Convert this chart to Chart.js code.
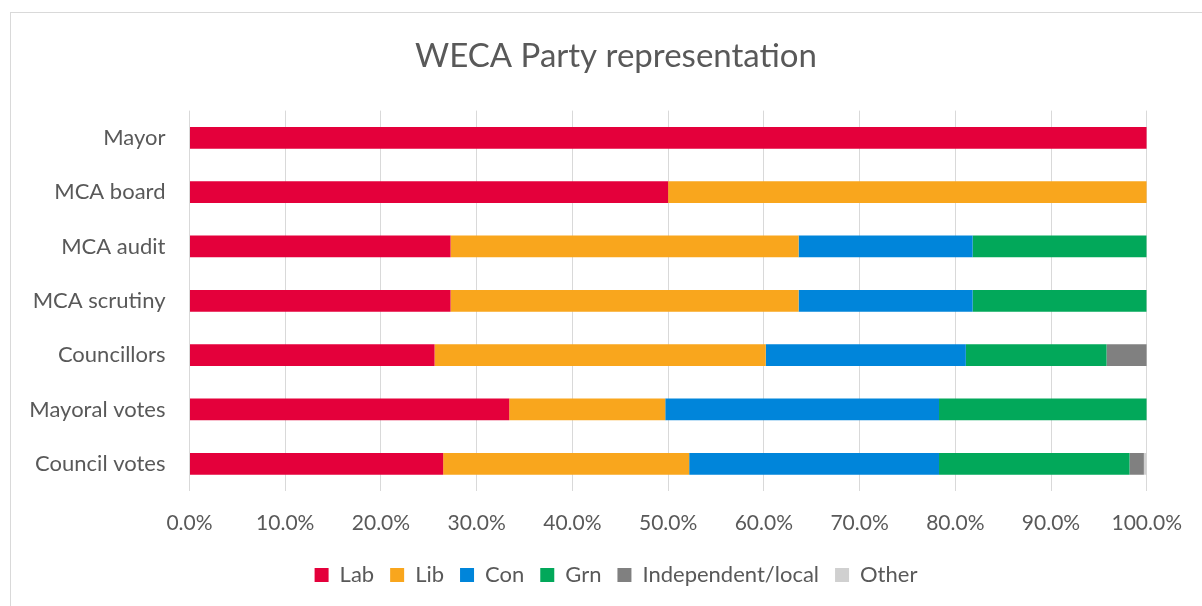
<!DOCTYPE html>
<html>
<head>
<meta charset="utf-8">
<script src="https://cdn.jsdelivr.net/npm/chart.js@4/dist/chart.umd.min.js"></script>
<style>
html,body{margin:0;padding:0;background:#fff;}
#wrap{position:absolute;left:0;top:0;width:1202px;height:606px;}
</style>
</head>
<body>
<div id="wrap"><canvas id="c" width="1202" height="606"></canvas></div>
<script>
const categories = ['Mayor','MCA board','MCA audit','MCA scrutiny','Councillors','Mayoral votes','Council votes'];
const seriesNames = ['Lab','Lib','Con','Grn','Independent/local','Other'];
const lab   = [100, 50, 27.27, 27.27, 25.6, 33.4, 26.5];
const lib   = [0,   50, 36.36, 36.36, 34.6, 16.3, 25.7];
const con   = [0,    0, 18.18, 18.18, 20.9, 28.6, 26.1];
const grn   = [0,    0, 18.18, 18.18, 14.7, 21.7, 19.9];
const ind   = [0,    0, 0,     0,     4.2,  0,    1.5];
const other = [0,    0, 0,     0,     0,    0,    0.3];
const colors = ['#E4003B','#F9A61D','#0085DA','#02A85A','#808080','#D0D0D0'];
const xTickStep = 10;

const FONT = 'Lato, "Noto Sans", sans-serif';
const TXT = '#595959';

const frame = {
  id:'frame',
  beforeDraw(chart){
    const ctx = chart.ctx;
    ctx.save();
    ctx.fillStyle = '#fff';
    ctx.fillRect(0,0,chart.width,chart.height);
    ctx.strokeStyle = '#D9D9D9';
    ctx.lineWidth = 1;
    ctx.strokeRect(10.5, 12.5, 1400, 800);
    ctx.restore();
  }
};

const all = [lab, lib, con, grn, ind, other];
new Chart(document.getElementById('c'), {
  type:'bar',
  data:{
    labels: categories,
    datasets: all.map((d,i)=>({
      label: seriesNames[i],
      data: d,
      backgroundColor: colors[i],
      borderWidth: 0,
      barPercentage: 0.4,
      categoryPercentage: 1.0
    }))
  },
  options:{
    indexAxis:'y',
    responsive:false,
    animation:false,
    devicePixelRatio:1,
    layout:{padding:{left:30,right:0,top:0,bottom:10}},
    plugins:{
      title:{display:true,text:'WECA Party representation',color:TXT,
        font:{family:FONT,size:33,weight:'normal'},padding:{top:37,bottom:34}},
      legend:{position:'bottom',
        labels:{color:TXT,font:{family:FONT,size:22},boxWidth:14,boxHeight:14,padding:16}},
      tooltip:{enabled:false}
    },
    scales:{
      x:{stacked:true,min:0,max:100,
        ticks:{stepSize:xTickStep,color:TXT,font:{family:FONT,size:21},padding:20,
          callback:v=>v.toFixed(1)+'%'},
        grid:{color:'#D9D9D9',drawTicks:false},
        border:{display:false},
        afterFit(s){s.height=57;}
      },
      y:{stacked:true,
        ticks:{color:TXT,font:{family:FONT,size:22},padding:24},
        grid:{display:false,drawTicks:false},
        border:{display:false},
        afterFit(s){s.width=159.5;}
      },
      yR:{type:'category',position:'right',display:true,
        ticks:{display:false},
        grid:{display:false,drawTicks:false},
        border:{display:false},
        afterFit(s){s.width=53;}
      }
    }
  },
  plugins:[frame]
});
</script>
</body>
</html>
